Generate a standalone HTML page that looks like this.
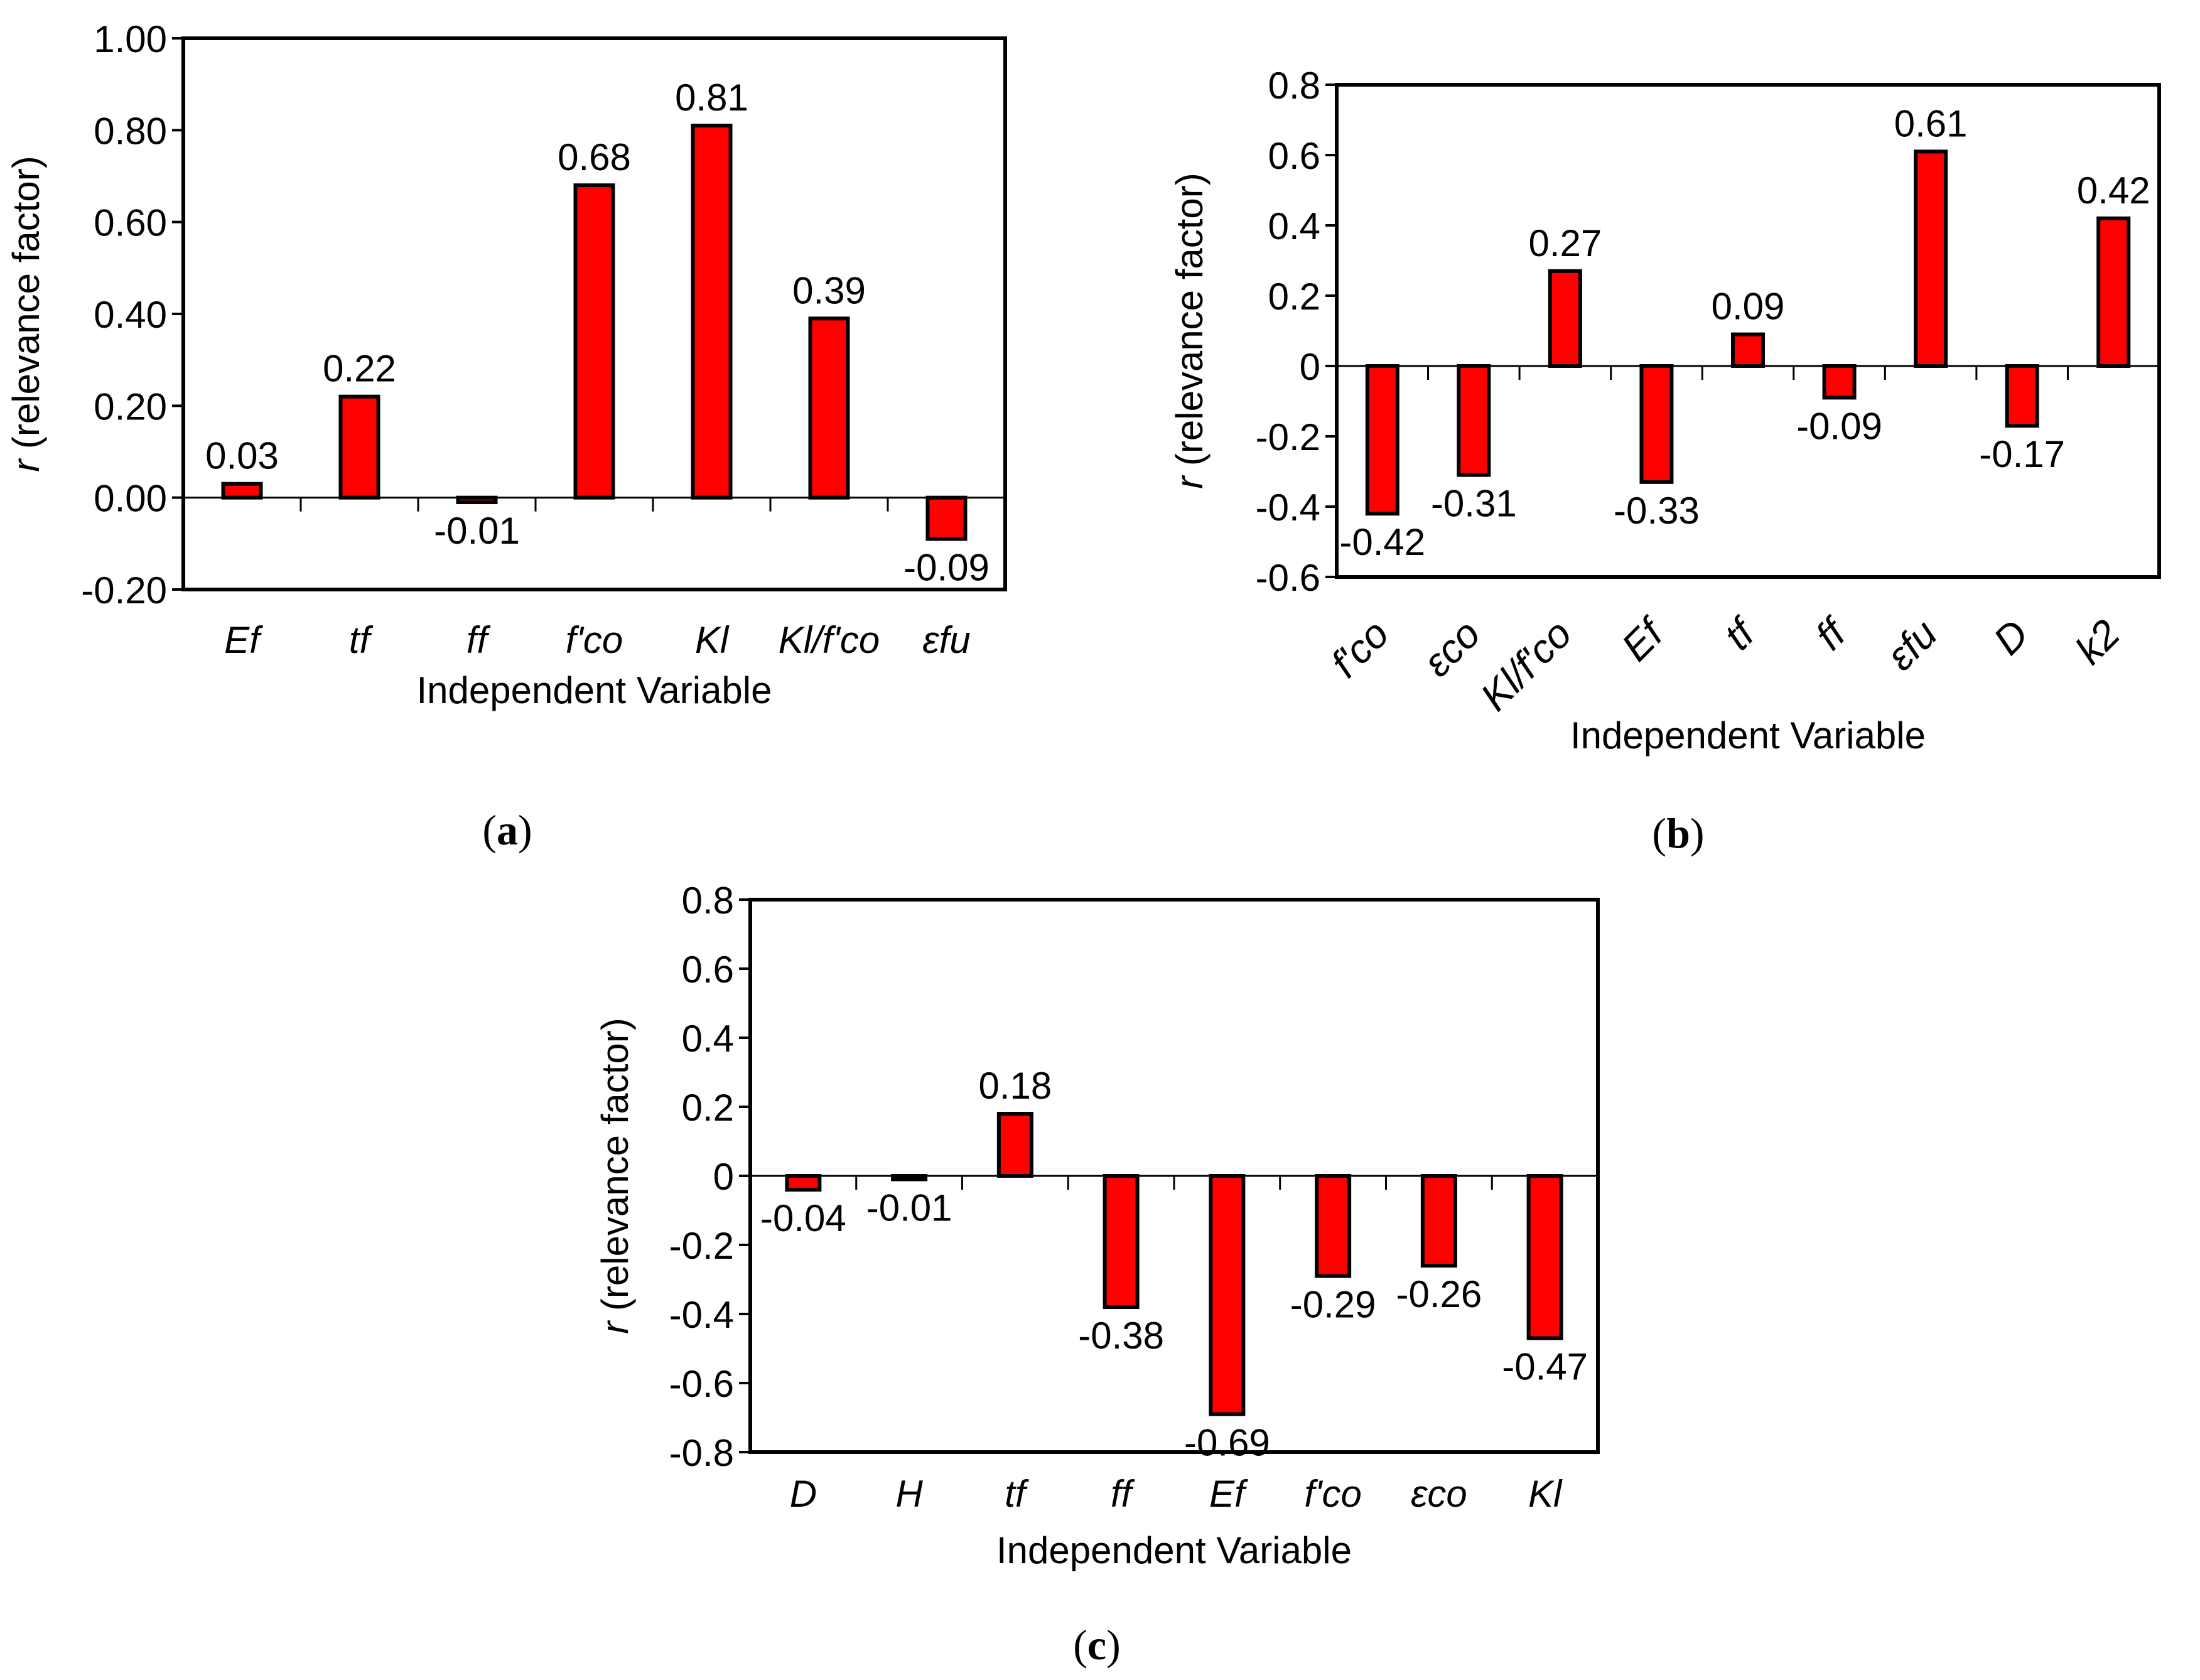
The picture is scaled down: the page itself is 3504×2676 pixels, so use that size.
<!DOCTYPE html>
<html><head><meta charset="utf-8"><style>
html,body{margin:0;padding:0;background:#fff;}
svg{display:block;}
text{font-family:"Liberation Sans",Arial,sans-serif;fill:#000;}
</style></head><body>
<svg id="fig" width="3504" height="2676" viewBox="0 0 3504 2676" xmlns="http://www.w3.org/2000/svg"></svg>
<script>
// Chart (a)
const catsA = ["Ef","tf","ff","f'co","Kl","Kl/f'co","εfu"];
const valsA = [0.03,0.22,-0.01,0.68,0.81,0.39,-0.09];
const ticksA = [1.00,0.80,0.60,0.40,0.20,0.00,-0.20];
// Chart (b)
const catsB = ["f'co","εco","Kl/f'co","Ef","tf","ff","εfu","D","k2"];
const valsB = [-0.42,-0.31,0.27,-0.33,0.09,-0.09,0.61,-0.17,0.42];
const ticksB = [0.8,0.6,0.4,0.2,0,-0.2,-0.4,-0.6];
// Chart (c)
const catsC = ["D","H","tf","ff","Ef","f'co","εco","Kl"];
const valsC = [-0.04,-0.01,0.18,-0.38,-0.69,-0.29,-0.26,-0.47];
const ticksC = [0.8,0.6,0.4,0.2,0,-0.2,-0.4,-0.6,-0.8];

const NS="http://www.w3.org/2000/svg";
const svg=document.getElementById('fig');
function mk(tag,attrs,parent){const e=document.createElementNS(NS,tag);for(const k in attrs)e.setAttribute(k,attrs[k]);(parent||svg).appendChild(e);return e;}
const FS=60;
function chart(cfg){
  const g=mk('g',{});
  
  
  const {L,R,T,B,ymin,ymax,cats,vals,ticks,dec}=cfg;
  const y=v=>T+(ymax-v)/(ymax-ymin)*(B-T);
  const cw=(R-L)/cats.length;
  const x=i=>L+cw*(i+0.5);
  const bw=cfg.bw;
  ticks.forEach(t=>{
    mk('line',{x1:L-18,x2:L,y1:y(t),y2:y(t),stroke:'#000','stroke-width':4},g);
    const tx=mk('text',{x:L-26,y:y(t)+22,'text-anchor':'end','font-size':FS},g);
    tx.textContent=dec?t.toFixed(2):(t===0?'0':t.toFixed(1));
    
    
  });
  const y0=y(0);
  mk('line',{x1:L,x2:R,y1:y0,y2:y0,stroke:'#000','stroke-width':3},g);
  for(let i=1;i<cats.length;i++){
    mk('line',{x1:L+cw*i,x2:L+cw*i,y1:y0,y2:y0+22,stroke:'#000','stroke-width':3},g);
  }
  vals.forEach((v,i)=>{
    const yt=Math.min(y(v),y0), h=Math.max(Math.abs(y(v)-y0),4);
    const r=mk('rect',{x:x(i)-bw/2,y:yt,width:bw,height:h,fill:'#ff0000',stroke:'#000','stroke-width':6},g);
    
    
    const lbl=mk('text',{x:x(i),y:v>=0?y(v)-24:y(v)+66,'text-anchor':'middle','font-size':FS},g);
    lbl.textContent=v.toFixed(2);
    
    
  });
  mk('rect',{x:L,y:T,width:R-L,height:B-T,fill:'none',stroke:'#000','stroke-width':6},g);
  cats.forEach((c,i)=>{
    let t;
    if(cfg.rot){
      const ax=x(i)+14, ay=B+95;
      t=mk('text',{x:ax,y:ay,'text-anchor':'end','font-size':64,'font-style':'italic',transform:`rotate(-45 ${ax} ${ay})`},g);
    } else {
      t=mk('text',{x:x(i),y:cfg.catY,'text-anchor':'middle','font-size':FS,'font-style':'italic'},g);
    }
    t.textContent=c;
    
    
  });
  const xt=mk('text',{x:(L+R)/2,y:cfg.titleY,'text-anchor':'middle','font-size':FS},g);
  xt.textContent='Independent  Variable';
  
  
  const cy=(T+B)/2;
  const yt=mk('text',{x:cfg.yTitleX,y:cy,'text-anchor':'middle','font-size':FS,transform:`rotate(-90 ${cfg.yTitleX} ${cy})`},g);
  yt.innerHTML='<tspan font-style="italic">r</tspan> (relevance  factor)';
  
  
  const pl=mk('text',{x:cfg.pX,y:cfg.pY,'text-anchor':'middle','font-size':68,style:'font-family:"Liberation Serif",serif'},g);
  pl.innerHTML='(<tspan font-weight="bold">'+cfg.letter+'</tspan>)';
  
  
}
chart({name:'chart-a',L:292,R:1601,T:61,B:939,ymin:-0.2,ymax:1.0,cats:catsA,vals:valsA,ticks:ticksA,dec:true,bw:60,catY:1040,titleY:1120,yTitleX:62,pX:808,pY:1345,letter:'a'});
chart({name:'chart-b',L:2129,R:3439,T:135,B:919,ymin:-0.6,ymax:0.8,cats:catsB,vals:valsB,ticks:ticksB,dec:false,bw:48,rot:true,titleY:1192,yTitleX:1915,pX:2673,pY:1350,letter:'b'});
chart({name:'chart-c',L:1195,R:2545,T:1433,B:2313,ymin:-0.8,ymax:0.8,cats:catsC,vals:valsC,ticks:ticksC,dec:false,bw:52,catY:2400,titleY:2490,yTitleX:1000,pX:1747,pY:2643,letter:'c'});
</script>
</body></html>
